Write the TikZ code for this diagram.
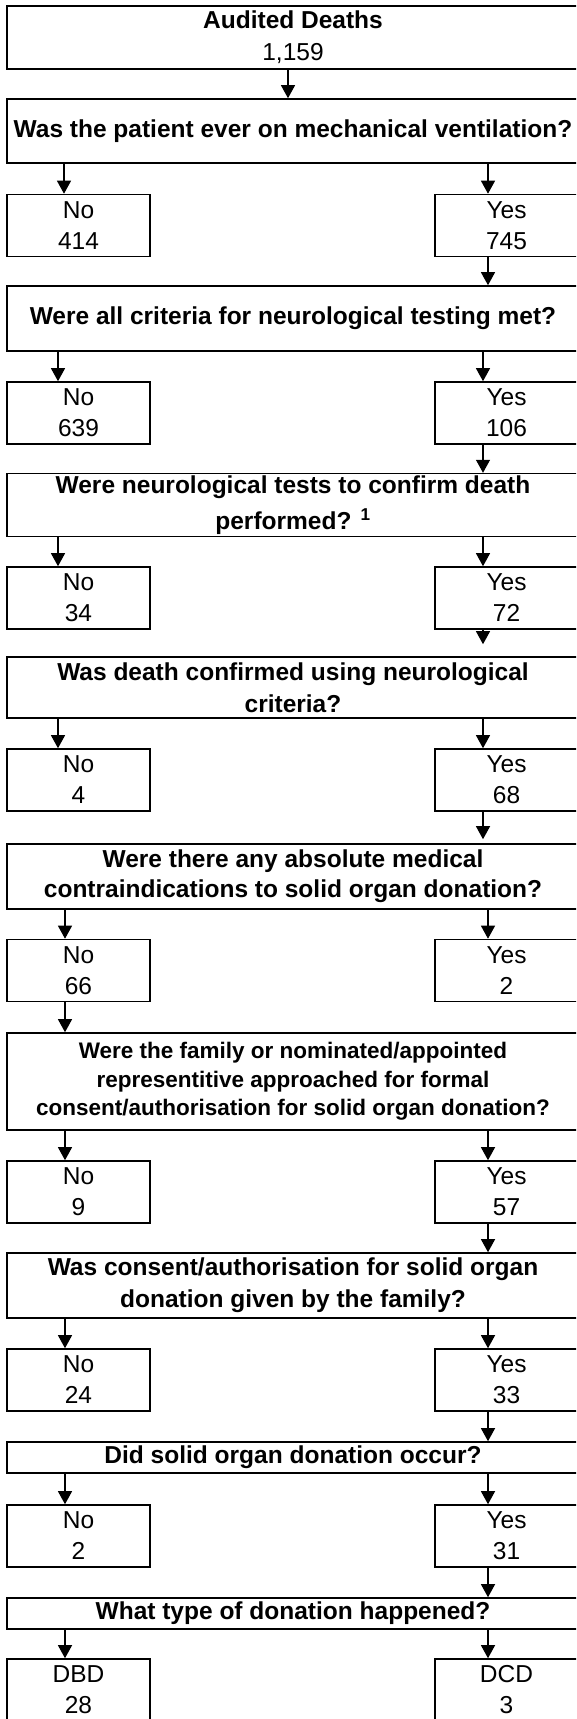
\documentclass[tikz,border=0pt]{standalone}
\usepackage{fontspec}
\setmainfont{Liberation Sans}
\usetikzlibrary{arrows.meta}

\begin{document}
\begin{tikzpicture}[
            x=1pt,y=-1pt,
            >={Triangle[width=14pt,length=13pt]},
            every node/.style={font=\fontsize{24.5}{31}\selectfont},
            quest/.style={draw,line width=1.6pt,minimum width=572pt,inner sep=2pt,align=center,
                font=\bfseries\fontsize{24.5}{31}\selectfont},
            ans/.style={draw,line width=1.6pt,minimum width=143pt,minimum height=62pt,inner sep=2pt,align=center},
            link/.style={->,line width=1.2pt}
        ]
        \useasboundingbox (0,0) rectangle (576,1719);
        \clip (0,0) rectangle (576,1719);
        \coordinate (mid) at (288,0);
        \coordinate (la) at (64,0);
        \coordinate (lb) at (58,0);
        \coordinate (lc) at (65,0);
        \coordinate (ra) at (488,0);
        \coordinate (rb) at (483,0);

        \node[ans,minimum width=572pt,minimum height=63pt,font=\fontsize{24.5}{32}\selectfont] (top) at (293,37.5)
            {{\bfseries Audited Deaths}\\1,159};
        \node[quest,minimum height=64pt] (q1) at (293,131) {Was the patient ever on mechanical ventilation?};
        \node[ans] (n1) at (78.5,225.5) {No\\414};
        \node[ans] (y1) at (506.5,225.5) {Yes\\745};
        \node[quest,minimum height=65pt] (q2) at (293,318.5) {Were all criteria for neurological testing met?};
        \node[ans] (n2) at (78.5,413) {No\\639};
        \node[ans] (y2) at (506.5,413) {Yes\\106};
        \node[quest,minimum height=62pt,font=\bfseries\fontsize{24.5}{36}\selectfont] (q3) at (293,505)
            {Were neurological tests to confirm death\\performed? \textsuperscript{1}};
        \node[ans] (n3) at (78.5,598) {No\\34};
        \node[ans] (y3) at (506.5,598) {Yes\\72};
        \node[quest,minimum height=61pt,font=\bfseries\fontsize{24.5}{32}\selectfont] (q4) at (293,687.5)
            {Was death confirmed using neurological\\criteria?};
        \node[ans] (n4) at (78.5,780) {No\\4};
        \node[ans] (y4) at (506.5,780) {Yes\\68};
        \node[quest,minimum height=65pt,font=\bfseries\fontsize{24.5}{30}\selectfont] (q5) at (293,876.5)
            {Were there any absolute medical\\contraindications to solid organ donation?};
        \node[ans] (n5) at (78.5,970.5) {No\\66};
        \node[ans] (y5) at (506.5,970.5) {Yes\\2};
        \node[quest,minimum height=97pt,font=\bfseries\fontsize{22.5}{28.3}\selectfont] (q6) at (293,1081.5)
            {Were the family or nominated/appointed\\representitive approached for formal\\consent/authorisation for solid organ donation?};
        \node[ans] (n6) at (78.5,1192) {No\\9};
        \node[ans] (y6) at (506.5,1192) {Yes\\57};
        \node[quest,minimum height=65pt,font=\bfseries\fontsize{24.5}{32}\selectfont] (q7) at (293,1285.5)
            {Was consent/authorisation for solid organ\\donation given by the family?};
        \node[ans] (n7) at (78.5,1380) {No\\24};
        \node[ans] (y7) at (506.5,1380) {Yes\\33};
        \node[quest,minimum height=31pt] (q8) at (293,1457.5) {Did solid organ donation occur?};
        \node[ans] (n8) at (78.5,1536) {No\\2};
        \node[ans] (y8) at (506.5,1536) {Yes\\31};
        \node[quest,minimum height=31pt] (q9) at (293,1613.5) {What type of donation happened?};
        \node[ans] (n9) at (78.5,1690) {DBD\\28};
        \node[ans] (y9) at (506.5,1690) {DCD\\3};

        \draw[link] (top.south -| mid) -- (q1.north -| mid);
        \draw[link] (q1.south -| la) -- (n1.north -| la);
        \draw[link] (q1.south -| ra) -- (y1.north -| ra);
        \draw[link] (y1.south -| ra) -- (q2.north -| ra);
        \draw[link] (q2.south -| lb) -- (n2.north -| lb);
        \draw[link] (q2.south -| rb) -- (y2.north -| rb);
        \draw[link] (y2.south -| rb) -- (q3.north -| rb);
        \draw[link] (q3.south -| lb) -- (n3.north -| lb);
        \draw[link] (q3.south -| rb) -- (y3.north -| rb);
        \draw[link,shorten >=12pt] (y3.south -| rb) -- (q4.north -| rb);
        \draw[link] (q4.south -| lb) -- (n4.north -| lb);
        \draw[link] (q4.south -| rb) -- (y4.north -| rb);
        \draw[link,shorten >=4pt] (y4.south -| rb) -- (q5.north -| rb);
        \draw[link] (q5.south -| lc) -- (n5.north -| lc);
        \draw[link] (q5.south -| ra) -- (y5.north -| ra);
        \draw[link] (n5.south -| lc) -- (q6.north -| lc);
        \draw[link] (q6.south -| lc) -- (n6.north -| lc);
        \draw[link] (q6.south -| ra) -- (y6.north -| ra);
        \draw[link] (y6.south -| ra) -- (q7.north -| ra);
        \draw[link] (q7.south -| lc) -- (n7.north -| lc);
        \draw[link] (q7.south -| ra) -- (y7.north -| ra);
        \draw[link] (y7.south -| ra) -- (q8.north -| ra);
        \draw[link] (q8.south -| lc) -- (n8.north -| lc);
        \draw[link] (q8.south -| ra) -- (y8.north -| ra);
        \draw[link] (y8.south -| ra) -- (q9.north -| ra);
        \draw[link] (q9.south -| lc) -- (n9.north -| lc);
        \draw[link] (q9.south -| ra) -- (y9.north -| ra);
\end{tikzpicture}
\end{document}
